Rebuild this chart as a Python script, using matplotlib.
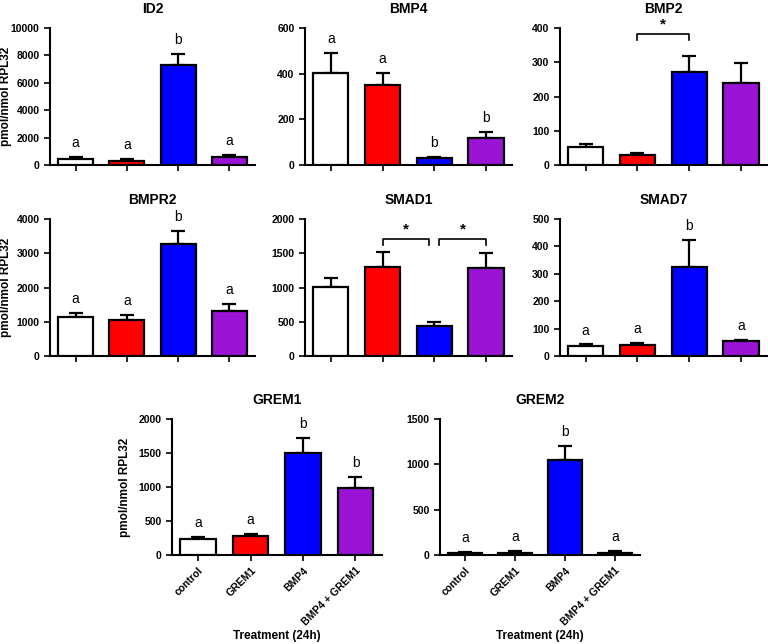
import matplotlib
matplotlib.use("Agg")
import matplotlib.pyplot as plt
import numpy as np

plt.rcParams["font.family"] = ["Liberation Sans", "DejaVu Sans"]

treatments = ["control", "GREM1", "BMP4", "BMP4 + GREM1"]
colors = ["#FFFFFF", "#FF0000", "#0000FF", "#9B14D6"]

# means, upper SEM and group letters per gene
id2_mean = [440, 320, 7270, 610]
id2_err = [170, 120, 850, 120]
id2_letters = ["a", "a", "b", "a"]

bmp4_mean = [405, 350, 29, 117]
bmp4_err = [85, 52, 8, 29]
bmp4_letters = ["a", "a", "b", "b"]

bmp2_mean = [53, 28, 272, 238]
bmp2_err = [9, 6, 47, 59]
bmp2_letters = ["", "", "", ""]

bmpr2_mean = [1134, 1046, 3276, 1320]
bmpr2_err = [118, 157, 362, 186]
bmpr2_letters = ["a", "a", "b", "a"]

smad1_mean = [1012, 1296, 445, 1281]
smad1_err = [122, 220, 49, 220]
smad1_letters = ["", "", "", ""]

smad7_mean = [37, 40, 325, 53]
smad7_err = [5, 6, 98, 7]
smad7_letters = ["a", "a", "b", "a"]

grem1_mean = [235, 279, 1501, 988]
grem1_err = [34, 24, 225, 161]
grem1_letters = ["a", "a", "b", "b"]

grem2_mean = [22, 26, 1045, 26]
grem2_err = [7, 22, 154, 14]
grem2_letters = ["a", "a", "b", "a"]

# significance brackets: (x start, x end, y level)
bmp2_brackets = [(1.0, 2.0, 383)]
smad1_brackets = [(1.0, 1.9, 1707), (2.1, 3.0, 1707)]

panels = [
    ("ID2", id2_mean, id2_err, id2_letters, 10000, 2000, [0.0651, 0.7438, 0.267, 0.2127], -0.215, False, []),
    ("BMP4", bmp4_mean, bmp4_err, bmp4_letters, 600, 200, [0.397, 0.7438, 0.2695, 0.2127], None, False, []),
    ("BMP2", bmp2_mean, bmp2_err, bmp2_letters, 400, 100, [0.729, 0.7438, 0.2695, 0.2127], None, False, bmp2_brackets),
    ("BMPR2", bmpr2_mean, bmpr2_err, bmpr2_letters, 4000, 1000, [0.0651, 0.4472, 0.267, 0.2127], -0.215, False, []),
    ("SMAD1", smad1_mean, smad1_err, smad1_letters, 2000, 500, [0.397, 0.4472, 0.2695, 0.2127], None, False, smad1_brackets),
    ("SMAD7", smad7_mean, smad7_err, smad7_letters, 500, 100, [0.729, 0.4472, 0.2695, 0.2127], None, False, []),
    ("GREM1", grem1_mean, grem1_err, grem1_letters, 2000, 500, [0.224, 0.1382, 0.273, 0.211], -0.225, True, []),
    ("GREM2", grem2_mean, grem2_err, grem2_letters, 1500, 500, [0.573, 0.1382, 0.26, 0.211], None, True, []),
]

fig = plt.figure(figsize=(7.68, 6.44), dpi=100)
x = np.arange(len(treatments))

for title, mean, err, letters, ymax, step, rect, ylab_x, xlab, brackets in panels:
    ax = fig.add_axes(rect)
    ax.bar(x, mean, width=0.68, color=colors, edgecolor="black", linewidth=1.6, zorder=3)
    ax.errorbar(x, mean, yerr=[np.zeros(4), err], fmt="none", ecolor="black",
                elinewidth=1.6, capsize=5, capthick=1.6, zorder=2)
    for xi, m, e, lt in zip(x, mean, err, letters):
        if lt:
            ax.annotate(lt, (xi, m + e), xytext=(0, 5), textcoords="offset points",
                        ha="center", va="bottom", fontsize=10)
    for x0, x1, yb in brackets:
        drop = ymax * 0.045
        ax.plot([x0, x0, x1, x1], [yb - drop, yb, yb, yb - drop], color="black", lw=1.2)
        ax.text((x0 + x1) / 2, yb + ymax * 0.02, "*", ha="center", va="bottom",
                fontsize=11, fontweight="bold")
    ax.set_xlim(-0.5, 3.5)
    ax.set_ylim(0, ymax)
    ax.set_yticks(np.arange(0, ymax + 1, step))
    ax.set_title(title, fontsize=10, fontweight="bold", pad=11)
    for s in ["top", "right"]:
        ax.spines[s].set_visible(False)
    for s in ["left", "bottom"]:
        ax.spines[s].set_linewidth(1.5)
    ax.tick_params(width=1.2, length=4, labelsize=7.5)
    for lab in ax.get_yticklabels():
        lab.set_fontweight("bold")
    ax.set_xticks(x)
    if xlab:
        ax.set_xticklabels(treatments, rotation=45, ha="right", rotation_mode="anchor",
                           fontsize=7.5, fontweight="bold")
        ax.set_xlabel("Treatment (24h)", fontsize=8.5, fontweight="bold")
        ax.xaxis.set_label_coords(0.5, -0.555)
        ax.xaxis.label.set_va("top")
    else:
        ax.set_xticklabels([])
    if ylab_x is not None:
        ax.set_ylabel("pmol/nmol RPL32", fontsize=8.5, fontweight="bold")
        ax.yaxis.set_label_coords(ylab_x, 0.5)
        ax.yaxis.label.set_va("center")

fig.savefig("out.png", dpi=100)
